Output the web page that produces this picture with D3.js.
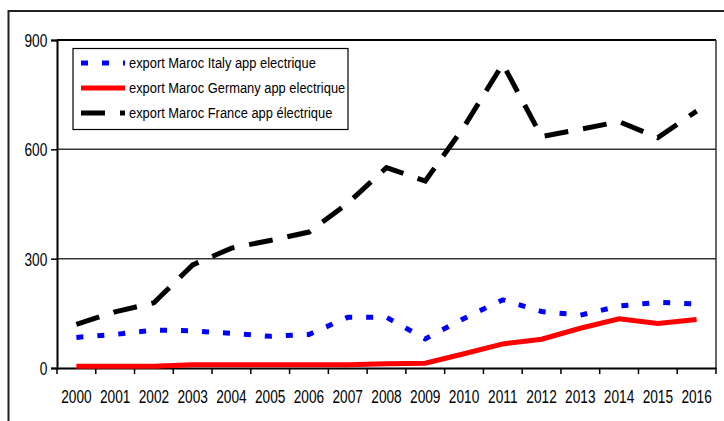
<!DOCTYPE html>
<html>
<head>
<meta charset="utf-8">
<script src="https://cdn.jsdelivr.net/npm/d3@7"></script>
<style>
  html, body { margin: 0; padding: 0; background: #fff; }
  svg { display: block; }
  text { font-family: "Liberation Sans", Arial, sans-serif; fill: #000; }
</style>
</head>
<body>
<svg id="chart" width="724" height="421"></svg>
<script>
const years = ["2000","2001","2002","2003","2004","2005","2006","2007","2008","2009","2010","2011","2012","2013","2014","2015","2016"];
const italy   = [84, 92, 104, 102, 95, 87, 92, 139, 139, 80, 136, 187, 155, 145, 170, 180, 176];
const germany = [5, 5, 5, 9, 9, 9, 9, 9, 12, 13, 39, 66, 79, 109, 135, 122, 133];
const france  = [120, 154, 179, 283, 329, 350, 373, 452, 550, 513, 662, 834, 635, 655, 676, 632, 705];
const yTicks = [0, 300, 600, 900];
const seriesNames = ["export Maroc Italy app electrique", "export Maroc Germany app electrique", "export Maroc France app électrique"];

(function () {
const svg = d3.select("#chart");
const pL = 57, pR = 716, pT = 40, pB = 368;
const axSX = 0.74, axFont = 18.5;

// outer frame
svg.append("rect").attr("x", 8.5).attr("y", 11).attr("width", 740).attr("height", 440)
  .attr("fill", "none").attr("stroke", "#222").attr("stroke-width", 2);

const x = d3.scaleBand().domain(years).range([pL, pR]).padding(0);
const y = d3.scaleLinear().domain([0, 900]).range([pB, pT]);
const cx = d => x(d) + x.bandwidth() / 2;

// gridlines
svg.append("g").selectAll("line").data([300, 600]).join("line")
  .attr("x1", pL).attr("x2", pR).attr("y1", d => y(d)).attr("y2", d => y(d))
  .attr("stroke", "#333").attr("stroke-width", 1.5);

// plot frame top & right
svg.append("line").attr("x1", pL).attr("x2", pR).attr("y1", y(900)).attr("y2", y(900))
  .attr("stroke", "#000").attr("stroke-width", 2);
svg.append("line").attr("x1", pR).attr("x2", pR).attr("y1", pT).attr("y2", pB)
  .attr("stroke", "#333").attr("stroke-width", 1.5);

// y axis
const yAxis = d3.axisLeft(y).tickValues(yTicks).tickSize(6).tickPadding(5);
const gy = svg.append("g").attr("transform", `translate(${pL},0)`).call(yAxis);
gy.select(".domain").attr("stroke", "#000").attr("stroke-width", 2);
gy.selectAll(".tick line").attr("stroke", "#000").attr("stroke-width", 1.5);
gy.selectAll(".tick text")
  .style("font-size", axFont + "px").style("font-family", "Liberation Sans, Arial, sans-serif")
  .attr("x", -9.7 / axSX).attr("dy", "0.36em")
  .attr("transform", `scale(${axSX},1)`);

// x axis
const xAxis = d3.axisBottom(x).tickSize(0).tickPadding(20);
const gx = svg.append("g").attr("transform", `translate(0,${pB})`).call(xAxis);
gx.select(".domain").attr("stroke", "#000").attr("stroke-width", 2);
gx.selectAll(".tick text")
  .style("font-size", axFont + "px").style("font-family", "Liberation Sans, Arial, sans-serif")
  .attr("y", 35).attr("dy", 0)
  .attr("transform", `scale(${axSX},1)`);
// boundary ticks
const bounds = years.map(d => x(d)).concat([pR]);
svg.append("g").selectAll("line").data(bounds).join("line")
  .attr("x1", d => d).attr("x2", d => d)
  .attr("y1", pB).attr("y2", pB + 6).attr("stroke", "#000").attr("stroke-width", 1.5);

const line = d3.line().x((d, i) => cx(years[i])).y(d => y(d));

const styles = [
  { data: italy, color: "#0000ff", dash: "7,14", w: 5 },
  { data: germany, color: "#ff0000", dash: null, w: 5 },
  { data: france, color: "#000000", dash: "24,15", w: 5 }
];
svg.append("g").selectAll("path").data(styles).join("path")
  .attr("d", d => line(d.data))
  .attr("fill", "none").attr("stroke", d => d.color).attr("stroke-width", d => d.w)
  .attr("stroke-dasharray", d => d.dash);

// legend
const lg = svg.append("g");
lg.append("rect").attr("x", 73).attr("y", 48.5).attr("width", 275).attr("height", 81)
  .attr("fill", "#fff").attr("stroke", "#000").attr("stroke-width", 1.2);
const rows = [63, 88, 113];
const lgSX = 0.86;
styles.forEach((s, i) => {
  lg.append("line").attr("x1", 81).attr("x2", 125).attr("y1", rows[i]).attr("y2", rows[i])
    .attr("stroke", s.color).attr("stroke-width", s.w).attr("stroke-dasharray", s.dash);
  lg.append("text").attr("x", 129 / lgSX).attr("y", rows[i] + 5)
    .attr("transform", `scale(${lgSX},1)`)
    .style("font-size", "15px").text(seriesNames[i]);
});
})();
</script>
</body>
</html>
